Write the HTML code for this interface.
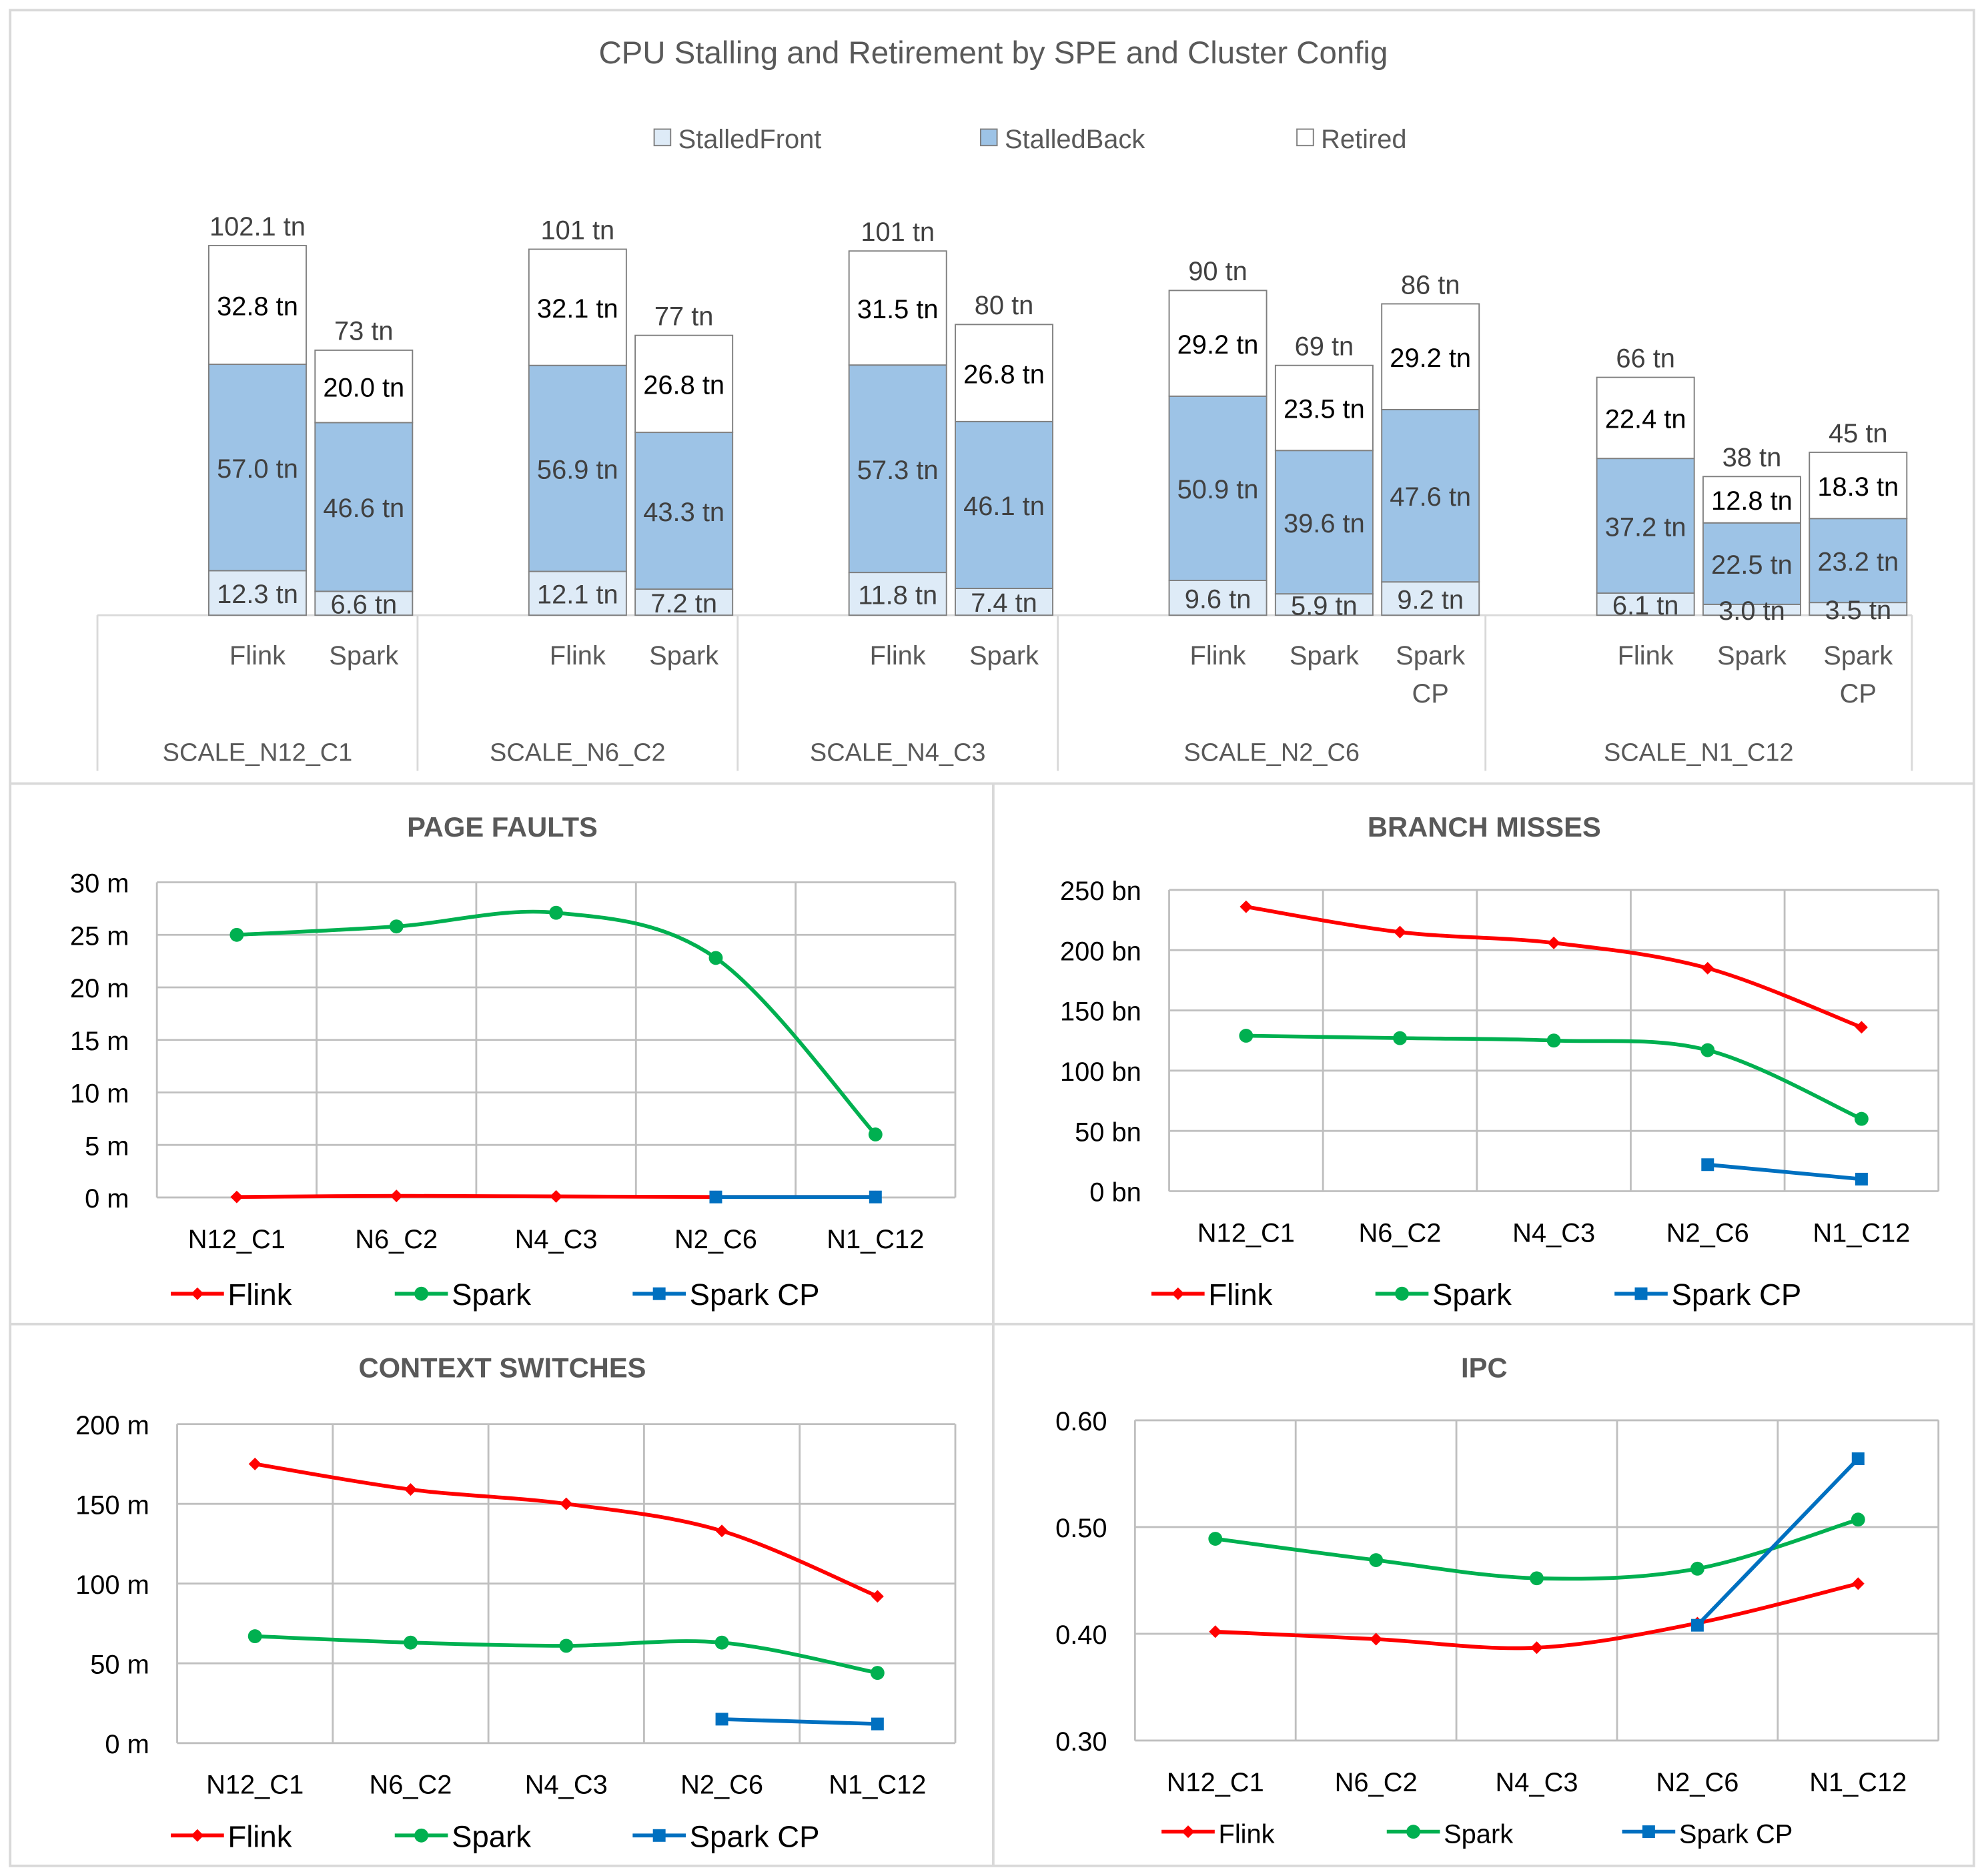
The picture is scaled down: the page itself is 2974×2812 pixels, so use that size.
<!DOCTYPE html>
<html><head><meta charset="utf-8">
<style>
html,body{margin:0;padding:0;background:#fff;}
svg{display:block;font-family:"Liberation Sans",sans-serif;}
</style></head>
<body>
<svg id="root" width="2974" height="2812" viewBox="0 0 1568 1482" preserveAspectRatio="none" xmlns="http://www.w3.org/2000/svg">
<rect x="0" y="0" width="1568" height="1482" fill="#fff"/>
<rect x="8" y="8" width="1552" height="1466" fill="none" stroke="#d9d9d9" stroke-width="2"/>
<line x1="8" y1="619" x2="1560" y2="619" stroke="#d9d9d9" stroke-width="2"/>
<line x1="8" y1="1046" x2="1560" y2="1046" stroke="#d9d9d9" stroke-width="2"/>
<line x1="785" y1="619" x2="785" y2="1474" stroke="#d9d9d9" stroke-width="2"/>
</svg>
<script>
// ===== Top stacked chart data =====
const groupNames = ["SCALE_N12_C1","SCALE_N6_C2","SCALE_N4_C3","SCALE_N2_C6","SCALE_N1_C12"];
const barSeries = [["Flink","Spark"],["Flink","Spark"],["Flink","Spark"],["Flink","Spark","Spark CP"],["Flink","Spark","Spark CP"]];
const stalledFront = [[12.3,6.6],[12.1,7.2],[11.8,7.4],[9.6,5.9,9.2],[6.1,3.0,3.5]];
const stalledBack = [[57.0,46.6],[56.9,43.3],[57.3,46.1],[50.9,39.6,47.6],[37.2,22.5,23.2]];
const retired = [[32.8,20.0],[32.1,26.8],[31.5,26.8],[29.2,23.5,29.2],[22.4,12.8,18.3]];
const totalLabels = [["102.1 tn","73 tn"],["101 tn","77 tn"],["101 tn","80 tn"],["90 tn","69 tn","86 tn"],["66 tn","38 tn","45 tn"]];

// ===== Line charts data =====
const lineCats = ["N12_C1","N6_C2","N4_C3","N2_C6","N1_C12"];
const pfFlink = [0.05,0.15,0.1,0.05,0.05];
const pfSpark = [25,25.8,27.1,22.8,6];
const pfSparkCP = [null,null,null,0.05,0.05];
const pfTicks = ["0 m","5 m","10 m","15 m","20 m","25 m","30 m"];
const bmFlink = [236,215,206,185,136];
const bmSpark = [129,127,125,117,60];
const bmSparkCP = [null,null,null,22,10];
const bmTicks = ["0 bn","50 bn","100 bn","150 bn","200 bn","250 bn"];
const csFlink = [175,159,150,133,92];
const csSpark = [67,63,61,63,44];
const csSparkCP = [null,null,null,15,12];
const csTicks = ["0 m","50 m","100 m","150 m","200 m"];
const ipcFlink = [0.402,0.395,0.387,0.410,0.447];
const ipcSpark = [0.489,0.469,0.452,0.461,0.507];
const ipcSparkCP = [null,null,null,0.408,0.564];
const ipcTicks = ["0.30","0.40","0.50","0.60"];

const NS="http://www.w3.org/2000/svg";
const root=document.getElementById('root');
function mk(tag,attrs,parent,text){const e=document.createElementNS(NS,tag);for(const k in attrs)e.setAttribute(k,attrs[k]);if(text!==undefined)e.textContent=text;(parent||root).appendChild(e);return e;}

// ---- top chart ----
let t=mk('text',{x:785,y:50,'text-anchor':'middle','font-size':25,fill:'#595959'},root,'CPU Stalling and Retirement by SPE and Cluster Config');


const legItems=[["StalledFront","#deebf7",517],["StalledBack","#9dc3e6",775],["Retired","#ffffff",1025]];
legItems.forEach(function(l){
  const g=mk('g',{});
  
  
  mk('rect',{x:l[2],y:102,width:13,height:13,fill:l[1],stroke:'#7f7f7f','stroke-width':1},g);
  mk('text',{x:l[2]+19,y:117,'font-size':21,fill:'#595959'},g,l[0]);
});
const base=486, tnScale=2.86;
function yTn(v){return base-v*tnScale;}
const groupStarts=[165,418,671,924,1262];
const barW=77, barStep=84;
const sepX=[77,330,583,836,1174,1511];
const catAxis=mk('g',{});


mk('line',{x1:77,y1:base,x2:1511,y2:base,stroke:'#d9d9d9','stroke-width':1.5},catAxis);
sepX.forEach(function(x){mk('line',{x1:x,y1:base,x2:x,y2:609,stroke:'#d9d9d9','stroke-width':1.5},catAxis);});
groupNames.forEach(function(gn,gi){
  const gt=mk('text',{x:(sepX[gi]+sepX[gi+1])/2,y:601,'text-anchor':'middle','font-size':20,fill:'#595959'},root,gn);
  
  
  barSeries[gi].forEach(function(sn,si){
    const x=groupStarts[gi]+si*barStep;
    const f=stalledFront[gi][si], b=stalledBack[gi][si], r=retired[gi][si];
    const g=mk('g',{});
    
    
    const segs=[[0,f,'#deebf7'],[f,f+b,'#9dc3e6'],[f+b,f+b+r,'#ffffff']];
    segs.forEach(function(s){mk('rect',{x:x,y:yTn(s[1]),width:barW,height:yTn(s[0])-yTn(s[1]),fill:s[2],stroke:'#7f7f7f','stroke-width':1},g);});
    mk('text',{x:x+barW/2+(f<8?0:0),y:yTn(f/2)+8,'text-anchor':'middle','font-size':21,fill:'#404040'},g,f.toFixed(1)+' tn');
    mk('text',{x:x+barW/2,y:yTn(f+b/2)+8,'text-anchor':'middle','font-size':21,fill:'#404040'},g,b.toFixed(1)+' tn');
    mk('text',{x:x+barW/2,y:yTn(f+b+r/2)+8,'text-anchor':'middle','font-size':21,fill:'#000'},g,r.toFixed(1)+' tn');
    mk('text',{x:x+barW/2,y:yTn(f+b+r)-8,'text-anchor':'middle','font-size':21,fill:'#404040'},g,totalLabels[gi][si]);
    const lines=sn==='Spark CP'?['Spark','CP']:[sn];
    lines.forEach(function(ln,li){mk('text',{x:x+barW/2,y:525+li*30,'text-anchor':'middle','font-size':21,fill:'#595959'},g,ln);});
  });
});

// ---- line charts ----
function smoothPath(pts){
  if(pts.length<2)return '';
  let d='M'+pts[0][0]+','+pts[0][1];
  for(let i=0;i<pts.length-1;i++){
    const p0=pts[i-1]||pts[i],p1=pts[i],p2=pts[i+1],p3=pts[i+2]||p2;
    const c1=[p1[0]+(p2[0]-p0[0])/6,p1[1]+(p2[1]-p0[1])/6];
    const c2=[p2[0]-(p3[0]-p1[0])/6,p2[1]-(p3[1]-p1[1])/6];
    d+=' C'+c1[0]+','+c1[1]+' '+c2[0]+','+c2[1]+' '+p2[0]+','+p2[1];
  }
  return d;
}
function lineChart(cfg){
  const g=mk('g',{});
  
  
  const tt=mk('text',{x:cfg.titleX,y:cfg.titleY,'text-anchor':'middle','font-size':22,'font-weight':'bold',fill:'#595959'},g,cfg.title);
  
  
  const n=cfg.ticks.length-1;
  function yv(v){return cfg.y1-(v-cfg.min)/(cfg.max-cfg.min)*(cfg.y1-cfg.y0);}
  const cw=(cfg.x1-cfg.x0)/lineCats.length;
  function xc(i){return cfg.x0+cw*(i+0.5);}
  const grid=mk('g',{},g);
  
  
  cfg.ticks.forEach(function(lb,i){
    const v=cfg.min+(cfg.max-cfg.min)*i/n;
    mk('line',{x1:cfg.x0,y1:yv(v),x2:cfg.x1,y2:yv(v),stroke:'#bfbfbf','stroke-width':1.5},grid);
    const tl=mk('text',{x:cfg.x0-22,y:yv(v)+8,'text-anchor':'end','font-size':21,fill:'#000'},g,lb);
    
    
  });
  for(let i=0;i<=lineCats.length;i++)mk('line',{x1:cfg.x0+cw*i,y1:cfg.y0,x2:cfg.x0+cw*i,y2:cfg.y1,stroke:'#bfbfbf','stroke-width':1.5},grid);
  lineCats.forEach(function(c,i){
    const cl=mk('text',{x:xc(i),y:cfg.y1+40,'text-anchor':'middle','font-size':21,fill:'#000'},g,c);
    
    
  });
  const series=[["Flink",cfg.flink,'#ff0000','diamond'],["Spark",cfg.spark,'#00b050','circle'],["Spark CP",cfg.cp,'#0070c0','square']];
  series.forEach(function(s,si){
    const sg=mk('g',{},g);
    
    
    const pts=[];
    s[1].forEach(function(v,i){if(v!==null)pts.push([xc(i),yv(v)]);});
    mk('path',{d:smoothPath(pts),fill:'none',stroke:s[2],'stroke-width':3},sg);
    pts.forEach(function(p){drawMarker(sg,s[3],p[0],p[1],s[2]);});
    const lx=cfg.legX[si], ly=cfg.legY;
    const lg=mk('g',{},g);
    
    
    mk('line',{x1:lx,y1:ly,x2:lx+42,y2:ly,stroke:s[2],'stroke-width':3},lg);
    drawMarker(lg,s[3],lx+21,ly,s[2]);
    mk('text',{x:lx+45,y:ly+9,'font-size':cfg.legFont,fill:'#000'},lg,s[0]);
  });
}
function drawMarker(parent,shape,x,y,c){
  if(shape==='circle')mk('circle',{cx:x,cy:y,r:5.5,fill:c},parent);
  else if(shape==='square')mk('rect',{x:x-5,y:y-5,width:10,height:10,fill:c},parent);
  else mk('polygon',{points:(x)+','+(y-5)+' '+(x+5)+','+y+' '+x+','+(y+5)+' '+(x-5)+','+y,fill:c},parent);
}
lineChart({name:'page-faults-chart',title:'PAGE FAULTS',titleX:397,titleY:661,x0:124,x1:755,y0:697,y1:946,min:0,max:30,ticks:pfTicks,flink:pfFlink,spark:pfSpark,cp:pfSparkCP,legX:[135,312,500],legY:1022,legFont:24});
lineChart({name:'branch-misses-chart',title:'BRANCH MISSES',titleX:1173,titleY:661,x0:924,x1:1532,y0:703,y1:941,min:0,max:250,ticks:bmTicks,flink:bmFlink,spark:bmSpark,cp:bmSparkCP,legX:[910,1087,1276],legY:1022,legFont:24});
lineChart({name:'context-switches-chart',title:'CONTEXT SWITCHES',titleX:397,titleY:1088,x0:140,x1:755,y0:1125,y1:1377,min:0,max:200,ticks:csTicks,flink:csFlink,spark:csSpark,cp:csSparkCP,legX:[135,312,500],legY:1450,legFont:24});
lineChart({name:'ipc-chart',title:'IPC',titleX:1173,titleY:1088,x0:897,x1:1532,y0:1122,y1:1375,min:0.3,max:0.6,ticks:ipcTicks,flink:ipcFlink,spark:ipcSpark,cp:ipcSparkCP,legX:[918,1096,1282],legY:1447,legFont:21});
</script>
</body></html>
